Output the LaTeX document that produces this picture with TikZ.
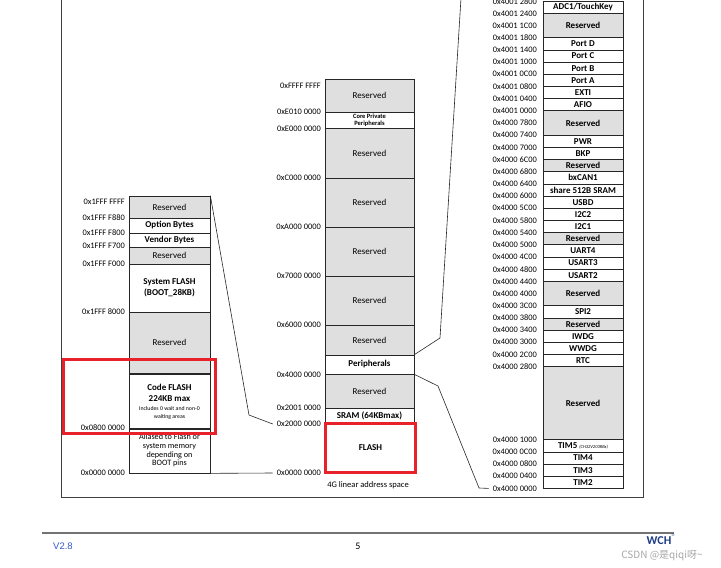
\documentclass[tikz,border=0pt]{standalone}
\usepackage{fontspec}
\setmainfont{Carlito}
\newfontfamily\cjkfont{Noto Sans CJK SC}
\newfontfamily\verfont{Liberation Sans}
\usetikzlibrary{positioning}
\definecolor{resgray}{HTML}{DFDFDF}
\definecolor{hiliteRed}{HTML}{E8222A}
\definecolor{wchblue}{HTML}{1F3C88}
\definecolor{verblue}{HTML}{3355CC}
\newcommand\notefont{\fontsize{5.8}{8}\selectfont\mdseries}

\begin{document}
\begin{tikzpicture}[x=1pt, y=-1pt,
  blk/.style={draw=black!85, line width=0.7pt, inner sep=0pt, align=center,
              font=\fontsize{9}{11}\selectfont\bfseries},
  res/.style={blk, fill=resgray, font=\fontsize{9}{11}\selectfont},
  resb/.style={blk, fill=resgray},
  lcol/.style={minimum width=81pt},
  mcol/.style={minimum width=89pt},
  addr/.style={anchor=east, inner sep=0pt, font=\fontsize{8.4}{9}\selectfont},
  wire/.style={draw=black!85, line width=0.6pt},
  frame/.style={draw=black!75, line width=0.8pt},
  hilite/.style={draw=hiliteRed, line width=2.8pt}
]
\useasboundingbox (0,0) rectangle (721,568);

% page frame
\draw[frame] (61,-2) -- (61,497) -- (643,497) -- (643,-2);

% left column: boot / flash area
\node[res, lcol, minimum height=22pt] (lres1) at (169.5,207) {Reserved};
\node[blk, lcol, minimum height=15pt] (lopt) at (169.5,225.5) {Option Bytes};
\node[blk, lcol, minimum height=14pt] (lvend) at (169.5,240) {Vendor Bytes};
\node[res, lcol, minimum height=17pt] (lres2) at (169.5,255.5) {Reserved};
\node[blk, lcol, minimum height=48pt] (lsys) at (169.5,288) {System FLASH\\(BOOT\_28KB)};
\node[res, lcol, minimum height=61pt] (lres3) at (169.5,342.5) {Reserved};
\node[blk, lcol, minimum height=55pt] (lcode) at (169.5,401.5)
  {Code FLASH\\224KB max\\[-2pt]\notefont Includes 0 wait and non-0\\[-3pt]\notefont waiting areas};
\node[blk, lcol, minimum height=45pt, font=\fontsize{8.2}{8.7}\selectfont] (lalias) at (169.5,450.5)
  {Aliased to Flash or\\system memory\\depending on\\BOOT pins};

\node[addr] (lffff) at (125,202) {0x1FFF FFFF};
\node[addr] (lf880) at (125,218) {0x1FFF F880};
\node[addr] (lf800) at (125,233) {0x1FFF F800};
\node[addr] (lf700) at (125,246) {0x1FFF F700};
\node[addr] (lf000) at (125,264) {0x1FFF F000};
\node[addr] (l8000) at (125,312) {0x1FFF 8000};
\node[addr] (l0800) at (125,428) {0x0800 0000};
\node[addr] (l0000) at (125,473) {0x0000 0000};

\draw[hilite] (63.5,359.5) rectangle (215.5,433.5);

% middle column: 4G address space
\node[res, mcol, minimum height=33pt] (mres1) at (369.5,95.5) {Reserved};
\node[blk, mcol, minimum height=16pt, font=\fontsize{6.5}{7}\selectfont\bfseries] (mcore) at (369.5,120) {Core Private\\Peripherals};
\node[res, mcol, minimum height=50pt] (mres2) at (369.5,153) {Reserved};
\node[res, mcol, minimum height=49pt] (mres3) at (369.5,202.5) {Reserved};
\node[res, mcol, minimum height=49pt] (mres4) at (369.5,251.5) {Reserved};
\node[res, mcol, minimum height=49pt] (mres5) at (369.5,300.5) {Reserved};
\node[res, mcol, minimum height=30pt] (mres6) at (369.5,340) {Reserved};
\node[blk, mcol, minimum height=19pt] (mper) at (369.5,364.5) {Peripherals};
\node[res, mcol, minimum height=34pt] (mres7) at (369.5,391) {Reserved};
\node[blk, mcol, minimum height=15pt] (msram) at (369.5,415.5) {SRAM (64KBmax)};
\node[blk, hilite, minimum width=90pt, minimum height=49pt] (mflash) at (370.5,448) {FLASH};
\node[font=\fontsize{8.5}{9}\selectfont] (mcap) at (368,485) {4G linear address space};

\node[addr] (mffff) at (321,86) {0xFFFF FFFF};
\node[addr] (me010) at (321,112) {0xE010 0000};
\node[addr] (me000) at (321,129) {0xE000 0000};
\node[addr] (mc000) at (321,178) {0xC000 0000};
\node[addr] (ma000) at (321,227) {0xA000 0000};
\node[addr] (m7000) at (321,276) {0x7000 0000};
\node[addr] (m6000) at (321,325) {0x6000 0000};
\node[addr] (m4000) at (321,375) {0x4000 0000};
\node[addr] (m2001) at (321,408) {0x2001 0000};
\node[addr] (m2000) at (321,424) {0x2000 0000};
\node[addr] (m0000) at (321,473) {0x0000 0000};

% right column: peripheral map
\foreach \a/\b/\t/\s in {0/1/{ADC1/TouchKey}/blk, 1/3/Reserved/resb, 3/4/Port D/blk,
    4/5/Port C/blk, 5/6/Port B/blk, 6/7/Port A/blk, 7/8/EXTI/blk, 8/9/AFIO/blk,
    9/11/Reserved/resb, 11/12/PWR/blk, 12/13/BKP/blk, 13/14/Reserved/resb,
    14/15/bxCAN1/blk, 15/16/share 512B SRAM/blk, 16/17/USBD/blk, 17/18/I2C2/blk,
    18/19/I2C1/blk, 19/20/Reserved/resb, 20/21/UART4/blk, 21/22/USART3/blk,
    22/23/USART2/blk, 23/25/Reserved/resb, 25/26/SPI2/blk, 26/27/Reserved/resb,
    27/28/IWDG/blk, 28/29/WWDG/blk, 29/30/RTC/blk, 30/36/Reserved/resb,
    36/37/{TIM5 {\fontsize{4.5}{5}\selectfont\mdseries\itshape (CH32V203RBx)}}/blk,
    37/38/TIM4/blk, 38/39/TIM3/blk, 39/40/TIM2/blk}
  \node[\s, minimum width=80pt, minimum height={(\b-\a)*12.18pt}] (r\a) at (583,{1.2+6.09*(\a+\b)}) {\t};

\foreach \r/\t in {0/2800, 1/2400, 2/1C00, 3/1800, 4/1400, 5/1000, 6/0C00, 7/0800,
    8/0400, 9/0000}
  \node[addr] (ra\r) at (537,{1.2+12.18*\r}) {0x4001 \t};
\foreach \r/\t in {10/7800, 11/7400, 12/7000, 13/6C00, 14/6800, 15/6400, 16/6000,
    17/5C00, 18/5800, 19/5400, 20/5000, 21/4C00, 22/4800, 23/4400, 24/4000,
    25/3C00, 26/3800, 27/3400, 28/3000, 29/2C00, 30/2800, 36/1000, 37/0C00,
    38/0800, 39/0400, 40/0000}
  \node[addr] (rb\r) at (537,{1.2+12.18*\r}) {0x4000 \t};

% zoom lines
\coordinate (lbend) at (249,415);
\coordinate (pbend1) at (440,338);
\coordinate (ptop) at (461,-2);
\coordinate (pbend2) at (438,386);
\coordinate (pbend3) at (479,488);
\draw[wire] (lres1.north east) -- (lbend) -- ([xshift=-4pt]m2000.west);
\draw[wire] (lalias.south east) -- ([xshift=-4pt]m0000.west);
\draw[wire] (mper.north east) -- (pbend1) -- (ptop);
\draw[wire] (mper.south east) -- (pbend2) -- (pbend3) -- ([xshift=-4pt]rb40.west);

% footer
\draw[draw=black!55, line width=1.5pt] (42,533) -- (674,533);
\node[font=\verfont\fontsize{9.5}{10}\selectfont, text=verblue] (ver) at (63,546) {V2.8};
\node[font=\fontsize{10}{11}\selectfont] (pnum) at (358,546) {5};
\node[font=\fontsize{12}{12}\selectfont\bfseries, text=wchblue, inner sep=0pt] (logo) at (659,541) {WCH};
\node[font=\verfont\fontsize{4}{4}\selectfont, text=wchblue, inner sep=0pt, anchor=south west] (logoreg) at (logo.north east) {®};
\node[font=\cjkfont\fontsize{10}{11}\selectfont, text=black!35, inner sep=0pt] (wmark) at (662,556)
  {CSDN @是qiqi呀\textasciitilde};
\end{tikzpicture}
\end{document}
